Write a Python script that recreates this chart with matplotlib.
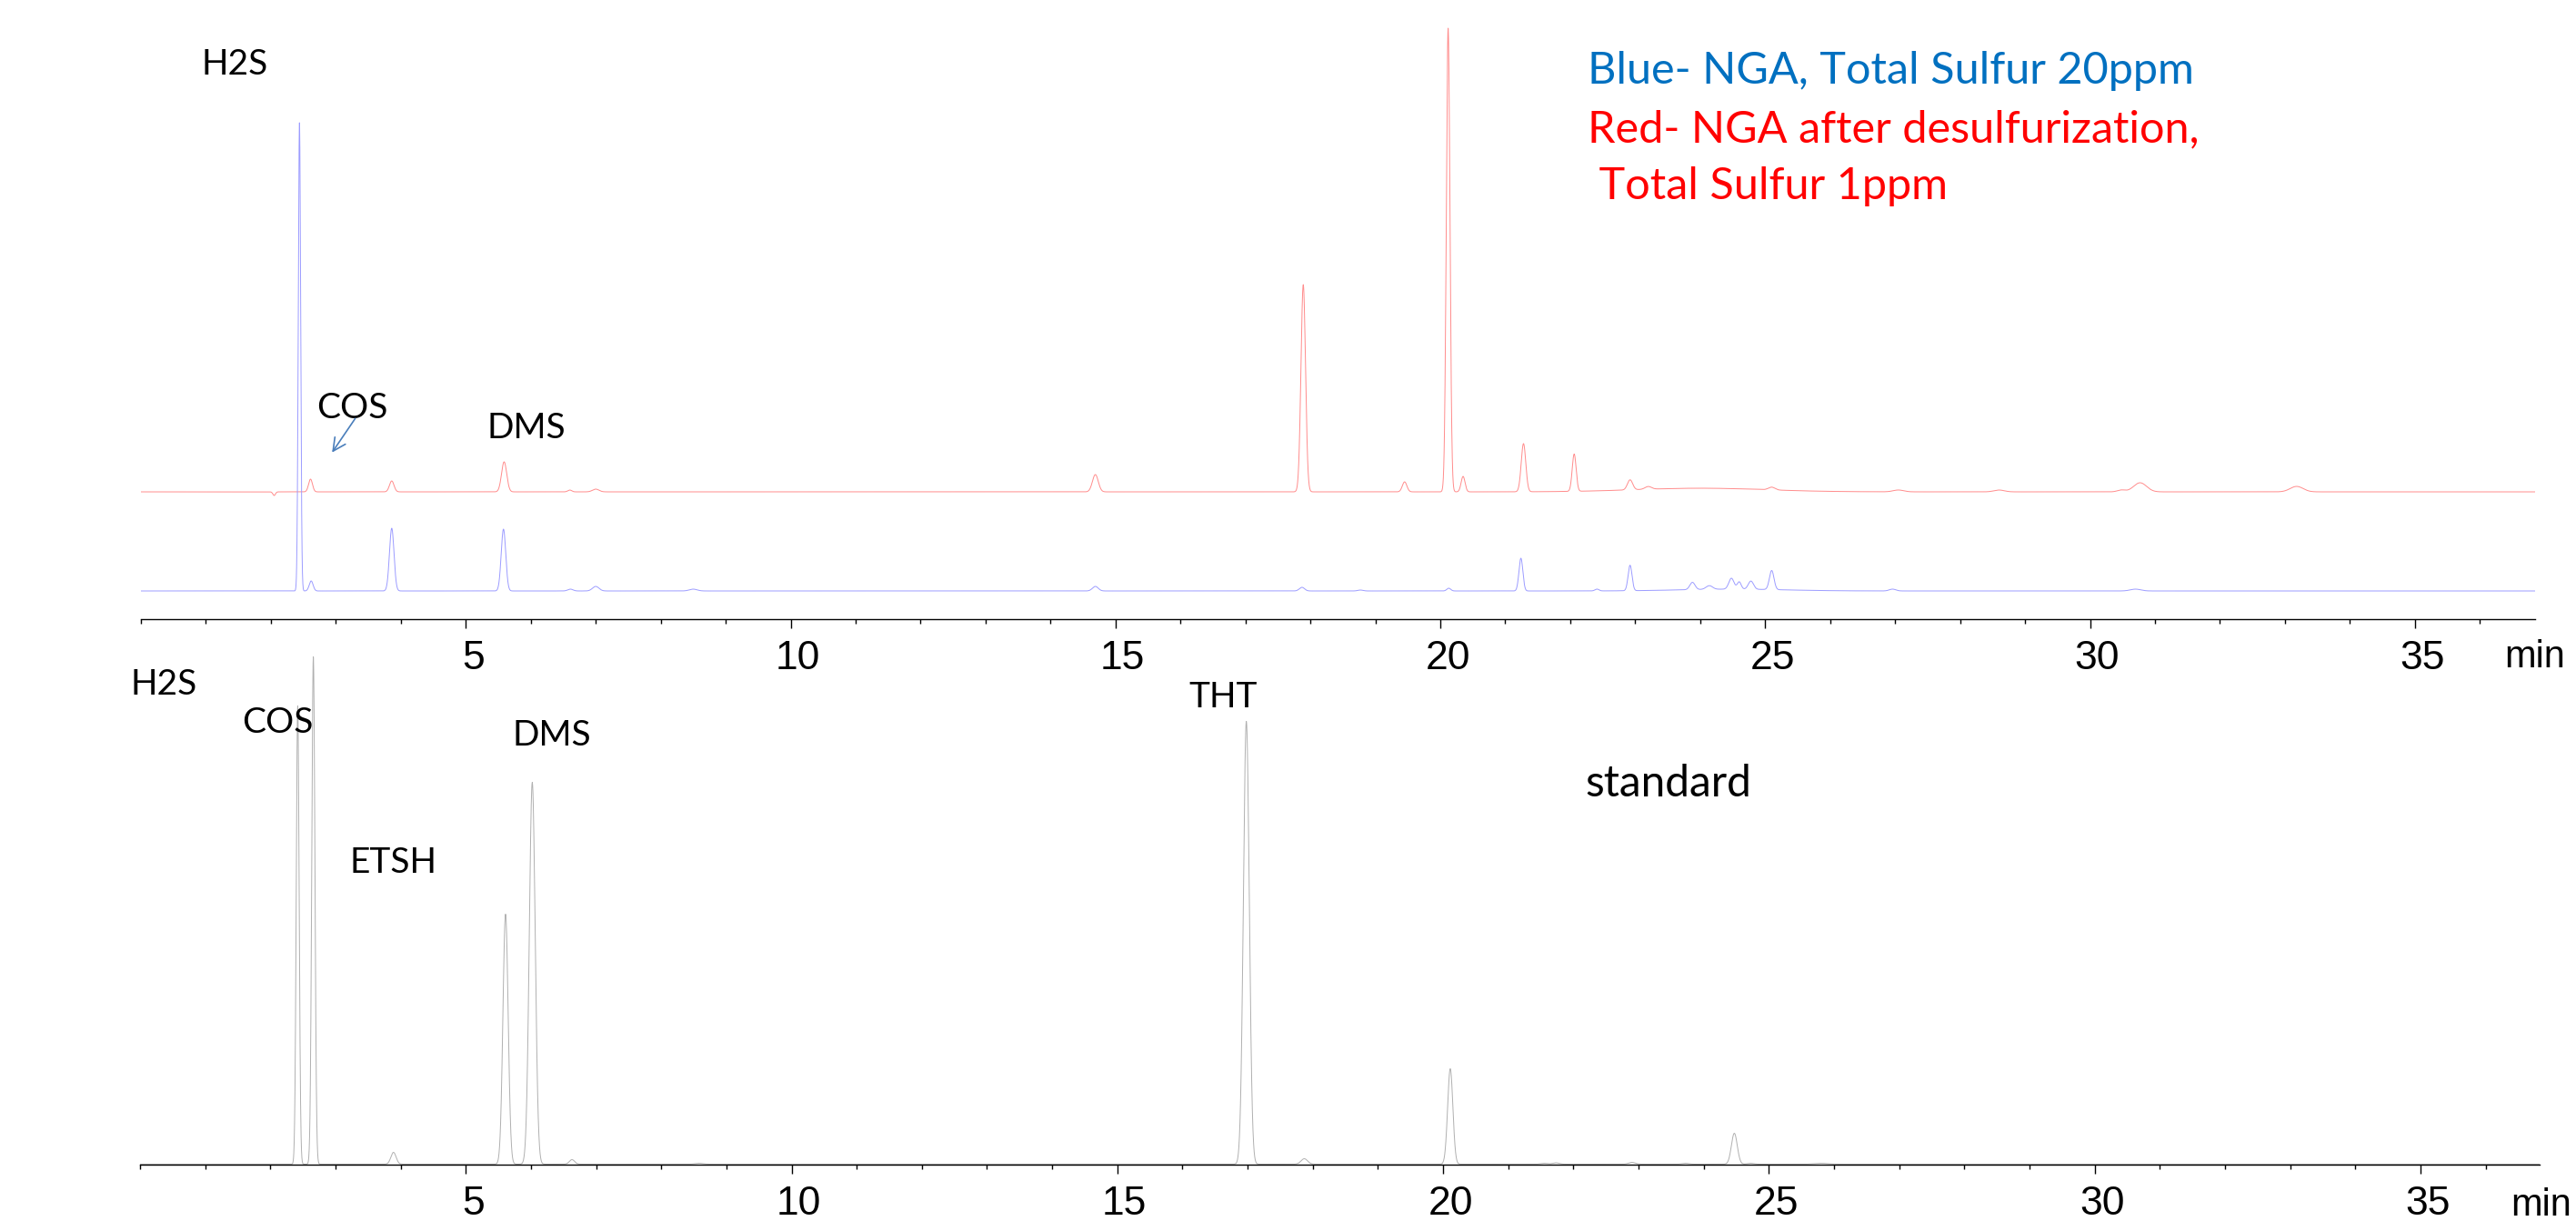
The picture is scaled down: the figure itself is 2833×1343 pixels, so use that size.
import numpy as np
import matplotlib
matplotlib.use("Agg")
import matplotlib.pyplot as plt
from matplotlib.ticker import MultipleLocator
from matplotlib.transforms import ScaledTranslation

# peak tables: retention time (min), height, width (sigma, min)
BLUE_RT = [2.44, 2.62, 3.86, 5.58, 6.61, 7.0, 8.5, 14.69, 17.87, 18.77, 20.13, 21.24, 22.41,
           22.92, 23.88, 24.14, 24.48, 24.60, 24.78, 25.10, 26.96, 30.7, 24.5]
BLUE_HEIGHT = [515, 11, 69, 68, 2, 5, 2, 5, 4, 1, 3, 36, 2,
               28, 8, 4, 12, 8, 9, 21, 2, 2, 2]
BLUE_SIGMA = [0.018, 0.03, 0.035, 0.035, 0.04, 0.05, 0.06, 0.045, 0.04, 0.04, 0.03, 0.03, 0.03,
              0.03, 0.04, 0.05, 0.04, 0.03, 0.04, 0.035, 0.05, 0.08, 0.8]

RED_RT = [2.05, 2.61, 3.86, 5.59, 6.6, 7.0, 14.69, 17.89, 19.45, 20.12, 20.35, 21.28, 22.06,
          22.92, 23.2, 25.1, 27.05, 28.6, 30.48, 30.77, 33.18, 24.0]
RED_HEIGHT = [-4, 14, 12, 33, 2, 3, 19, 228, 11, 510, 17, 53, 41,
              11, 3, 3, 2, 2, 2, 10, 6, 4]
RED_SIGMA = [0.02, 0.03, 0.035, 0.04, 0.03, 0.05, 0.045, 0.035, 0.035, 0.028, 0.03, 0.035, 0.03,
             0.04, 0.05, 0.05, 0.08, 0.08, 0.06, 0.1, 0.1, 1.0]

STD_RT = [2.42, 2.66, 3.89, 5.61, 6.02, 6.63, 8.58, 16.98, 17.87, 20.11, 21.55, 21.73, 22.9,
          23.72, 24.47, 24.72, 25.8]
STD_HEIGHT = [504, 558, 13, 275, 420, 5, 1, 487, 6, 105, 1, 1.5, 2,
              1, 34, 1, 1]
STD_SIGMA = [0.022, 0.024, 0.04, 0.04, 0.045, 0.04, 0.06, 0.045, 0.05, 0.04, 0.05, 0.05, 0.05,
             0.05, 0.045, 0.05, 0.1]

RED_OFFSET = 109
MAJOR_TICKS = [5, 10, 15, 20, 25, 30, 35]

LABEL_FONT = ["Lato", "DejaVu Sans"]
TICK_FONT = ["Liberation Sans", "DejaVu Sans"]

W, H = 2833, 1343


def build_trace(t, rts, heights, sigmas):
    y = np.zeros_like(t)
    for rt, h, s in zip(rts, heights, sigmas):
        y += h * np.exp(-0.5 * ((t - rt) / s) ** 2)
    return y


def style_axis(fig, ax, xmax):
    ax.set_xlim(0, xmax)
    for side in ("left", "right", "top"):
        ax.spines[side].set_visible(False)
    ax.spines["bottom"].set_linewidth(1.0)
    ax.set_yticks([])
    ax.set_xticks(MAJOR_TICKS)
    ax.set_xticklabels([str(v) for v in MAJOR_TICKS])
    ax.xaxis.set_minor_locator(MultipleLocator(1))
    ax.tick_params(axis="x", which="major", length=7.2, width=1.0, direction="out", pad=9)
    ax.tick_params(axis="x", which="minor", length=3.6, width=1.0, direction="out")
    shift = ScaledTranslation(8 / 100, 0, fig.dpi_scale_trans)
    for lab in ax.get_xticklabels():
        lab.set_fontfamily(TICK_FONT)
        lab.set_fontsize(32)
        lab.set_transform(lab.get_transform() + shift)
    ax.patch.set_alpha(0)


t = np.arange(0, 37.0, 0.002)
blue = build_trace(t, BLUE_RT, BLUE_HEIGHT, BLUE_SIGMA)
red = build_trace(t, RED_RT, RED_HEIGHT, RED_SIGMA) + RED_OFFSET
std = build_trace(t, STD_RT, STD_HEIGHT, STD_SIGMA)

fig = plt.figure(figsize=(W / 100, H / 100), dpi=100)

ax1 = fig.add_axes([155 / W, 1 - 681 / H, (2788 - 155) / W, 681 / H])
ax1.plot(t, red, color="#FF8C8C", lw=0.7)
ax1.plot(t, blue, color="#9C9CFF", lw=0.7)
ax1.set_ylim(-31, 650)
style_axis(fig, ax1, 36.85)

ax2 = fig.add_axes([154 / W, 1 - 1281 / H, (2793 - 154) / W, (1281 - 690) / H])
ax2.plot(t, std, color="#B0B0B0", lw=0.7)
ax2.set_ylim(-0.5, 590.5)
style_axis(fig, ax2, 36.83)

# peak labels, upper panel
lab_kw = dict(fontfamily=LABEL_FONT, fontsize=28, ha="center", va="baseline", color="black")
ax1.text(1.44, 568, "H2S", **lab_kw)
ax1.text(3.25, 190, "COS", **lab_kw)
ax1.text(5.93, 168, "DMS", **lab_kw)
ax1.annotate("", xy=(2.92, 150), xytext=(3.32, 192),
             arrowprops=dict(arrowstyle="->", color="#4A7EBB", lw=1.2,
                             mutation_scale=25))

leg_kw = dict(fontfamily=LABEL_FONT, fontsize=35, ha="left", va="baseline")
ax1.text(22.27, 558, "Blue- NGA, Total Sulfur 20ppm", color="#0070C0", **leg_kw)
ax1.text(22.27, 494, "Red- NGA after desulfurization,", color="#FF0000", **leg_kw)
ax1.text(22.27, 431, " Total Sulfur 1ppm", color="#FF0000", **leg_kw)

# peak labels, lower panel (standard)
ax2.text(0.36, 517, "H2S", clip_on=False, **lab_kw)
ax2.text(2.11, 474, "COS", **lab_kw)
ax2.text(6.32, 460, "DMS", **lab_kw)
ax2.text(3.88, 321, "ETSH", **lab_kw)
ax2.text(16.63, 503, "THT", **lab_kw)
ax2.text(22.18, 405, "standard", fontfamily=LABEL_FONT, fontsize=34.5, ha="left",
         va="baseline", color="black")

# axis unit labels
fig.text(2788 / W, 1 - 734 / H, "min", fontfamily=TICK_FONT, fontsize=30,
         ha="center", va="baseline")
fig.text(2795 / W, 1 - 1337 / H, "min", fontfamily=TICK_FONT, fontsize=30,
         ha="center", va="baseline")

fig.savefig("out.png", dpi=100)
